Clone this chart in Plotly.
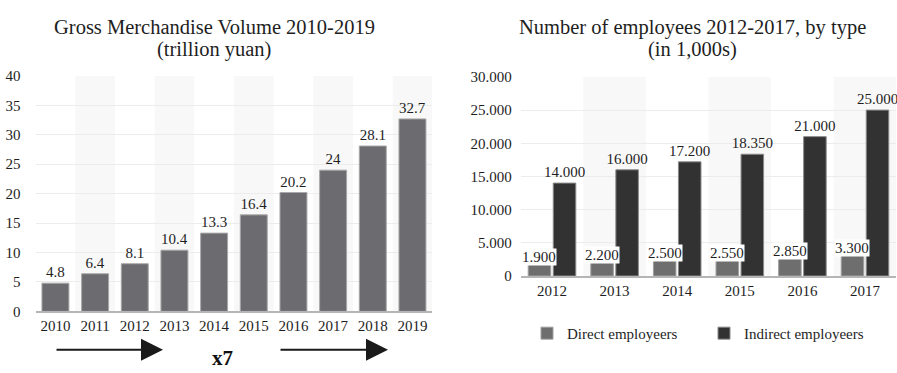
import plotly.graph_objects as go

# ---- data ----
gmv_years = ["2010", "2011", "2012", "2013", "2014", "2015", "2016", "2017", "2018", "2019"]
gmv_values = [4.8, 6.4, 8.1, 10.4, 13.3, 16.4, 20.2, 24, 28.1, 32.7]

emp_years = ["2012", "2013", "2014", "2015", "2016", "2017"]
direct_emp = [1900, 2200, 2500, 2550, 2850, 3300]
indirect_emp = [14000, 16000, 17200, 18350, 21000, 25000]

left_ticks = [0, 5, 10, 15, 20, 25, 30, 35, 40]
right_ticks = [0, 5000, 10000, 15000, 20000, 25000, 30000]

left_title = ["Gross Merchandise Volume 2010-2019", "(trillion yuan)"]
right_title = ["Number of employees 2012-2017, by type", "(in 1,000s)"]


def dotfmt(v):
    return f"{v:,}".replace(",", ".")


FONT = "Liberation Serif"
TXT = "#1e1e1e"
W, H = 897, 373
FS = 15

fig = go.Figure()

fig.add_trace(go.Bar(
    x=gmv_years, y=gmv_values, xaxis="x", yaxis="y",
    marker=dict(color="#6c6c70", line=dict(color="#a8a8a8", width=1)),
    text=[str(v) for v in gmv_values], textposition="outside", constraintext="none",
    textfont=dict(family=FONT, size=FS, color=TXT), cliponaxis=False,
    showlegend=False, width=0.68,
))

fig.add_trace(go.Bar(
    x=emp_years, y=direct_emp, xaxis="x2", yaxis="y2", name="Direct employeers",
    marker=dict(color="#6e6e6e", line=dict(color="#a0a0a0", width=1)),
    offsetgroup="d",
))
fig.add_trace(go.Bar(
    x=emp_years, y=indirect_emp, xaxis="x2", yaxis="y2", name="Indirect employeers",
    marker=dict(color="#323232", line=dict(color="#8a8a8a", width=1)),
    text=[dotfmt(v) for v in indirect_emp], textposition="outside", constraintext="none",
    textfont=dict(family=FONT, size=FS, color=TXT), cliponaxis=False,
    offsetgroup="i",
))

shapes = []
for i in range(len(gmv_years)):
    if i % 2 == 1:
        shapes.append(dict(type="rect", xref="x", yref="y domain", x0=i - 0.5, x1=i + 0.5,
                           y0=0, y1=1, fillcolor="#f8f8f8", line=dict(width=0), layer="below"))
for i in range(len(emp_years)):
    if i % 2 == 1:
        shapes.append(dict(type="rect", xref="x2", yref="y2 domain", x0=i - 0.5, x1=i + 0.5,
                           y0=0, y1=1, fillcolor="#f8f8f8", line=dict(width=0), layer="below"))

annotations = []
# direct labels with white background
for i, v in enumerate(direct_emp):
    annotations.append(dict(xref="x2", yref="y2", x=i - 0.2, y=v, yanchor="bottom",
                            text=dotfmt(v), showarrow=False, bgcolor="white", borderpad=0,
                            yshift=-3, font=dict(family=FONT, size=FS, color=TXT)))

# titles (one annotation per line for tight line spacing)
for cx, lines in [(214, left_title), (692, right_title)]:
    for k, line in enumerate(lines):
        annotations.append(dict(xref="paper", yref="paper", x=cx / W, y=1 - (20 + 23 * k) / H,
                                xanchor="center", yanchor="middle", showarrow=False, text=line,
                                font=dict(family=FONT, size=20.5, color=TXT)))

# arrows and x7
for x0, x1 in [(55, 163), (279, 388)]:
    annotations.append(dict(xref="paper", yref="paper", x=x1 / W, y=1 - 357 / H,
                            ax=-(x1 - x0), ay=0, showarrow=True, text="",
                            arrowhead=2, arrowsize=2.2, arrowwidth=2, arrowcolor="#1a1a1a"))
annotations.append(dict(xref="paper", yref="paper", x=222 / W, y=1 - 366 / H, xanchor="center",
                        yanchor="middle", showarrow=False, text="<b>x7</b>",
                        font=dict(family=FONT, size=21, color="#111")))

axis_common = dict(showgrid=False, tickfont=dict(family=FONT, size=FS, color=TXT))

fig.update_layout(
    width=W, height=H, margin=dict(l=0, r=0, t=0, b=0),
    paper_bgcolor="white", plot_bgcolor="white",
    barmode="group", bargap=0.2, bargroupgap=0.1,
    font=dict(family=FONT, color=TXT),
    xaxis=dict(domain=[35.6 / W, 432.3 / W], anchor="y", showline=True,
               linecolor="#b5b5b5", linewidth=2, ticks="", **axis_common),
    yaxis=dict(domain=[1 - 317 / H, 1 - 71 / H], anchor="x", range=[0, 40],
               tickvals=left_ticks, ticktext=[str(t) for t in left_ticks],
               showgrid=True, gridcolor="#ececec", gridwidth=1, zeroline=False,
               ticklabelstandoff=14, tickfont=dict(family=FONT, size=FS, color=TXT)),
    xaxis2=dict(domain=[520.7 / W, 896.3 / W], anchor="y2", showline=True,
                linecolor="#b5b5b5", linewidth=2, ticks="", **axis_common),
    yaxis2=dict(domain=[1 - 280 / H, 1 - 72 / H], anchor="x2", range=[0, 30000],
                tickvals=right_ticks, ticktext=[dotfmt(t) for t in right_ticks],
                showgrid=True, gridcolor="#ececec", gridwidth=1, zeroline=False,
                ticklabelstandoff=8, tickfont=dict(family=FONT, size=FS, color=TXT)),
    legend=dict(orientation="h", x=527 / W, y=1 - 340 / H, xanchor="left", yanchor="middle",
                font=dict(family=FONT, size=FS, color=TXT), bgcolor="rgba(0,0,0,0)",
                entrywidth=132, entrywidthmode="pixels", itemwidth=30),
    shapes=shapes, annotations=annotations,
)

fig.write_html("out.html")
